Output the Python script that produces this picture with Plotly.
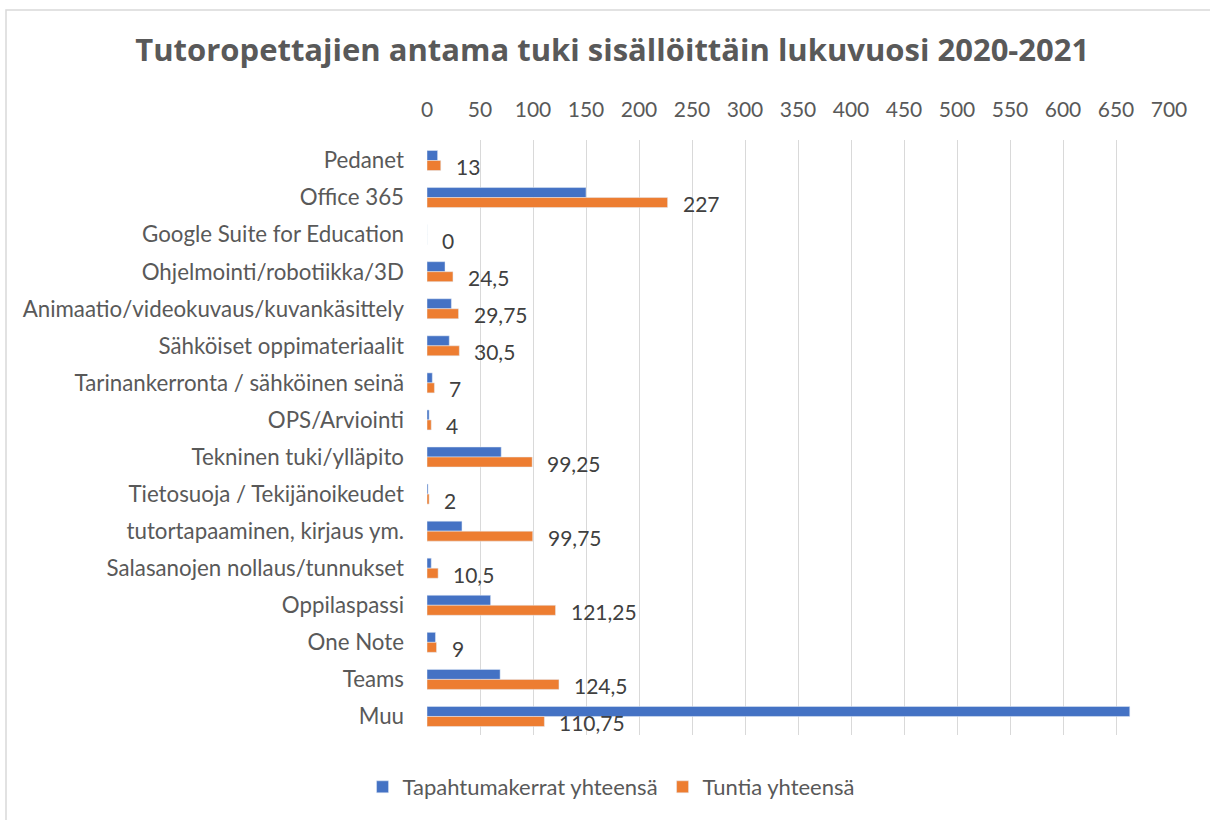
import plotly.graph_objects as go

categories = [
    "Pedanet", "Office 365", "Google Suite for Education", "Ohjelmointi/robotiikka/3D",
    "Animaatio/videokuvaus/kuvankäsittely", "Sähköiset oppimateriaalit",
    "Tarinankerronta / sähköinen seinä", "OPS/Arviointi", "Tekninen tuki/ylläpito",
    "Tietosuoja / Tekijänoikeudet", "tutortapaaminen, kirjaus ym.",
    "Salasanojen nollaus/tunnukset", "Oppilaspassi", "One Note", "Teams", "Muu",
]
tapahtumakerrat = [10, 150, 0, 17, 23, 21, 5, 2, 70, 1, 33, 4, 60, 8, 69, 663]
tuntia = [13, 227, 0, 24.5, 29.75, 30.5, 7, 4, 99.25, 2, 99.75, 10.5, 121.25, 9, 124.5, 110.75]
x_ticks = list(range(0, 701, 50))

series_names = ["Tapahtumakerrat yhteensä", "Tuntia yhteensä"]
BLUE = "#4472C4"
ORANGE = "#ED7D31"
FONT = "Lato, 'Open Sans', sans-serif"
TITLE_FONT = "'Open Sans', Lato, sans-serif"


def fmt(v):
    if float(v).is_integer():
        return str(int(v))
    return ("%g" % v).replace(".", ",")


fig = go.Figure()
fig.add_trace(go.Bar(y=categories, x=tapahtumakerrat, orientation="h", name=series_names[0],
                     marker=dict(color=BLUE)))
fig.add_trace(go.Bar(y=categories, x=tuntia, orientation="h", name=series_names[1],
                     marker=dict(color=ORANGE)))

for c, v in zip(categories, tuntia):
    fig.add_annotation(x=v, y=c, text=fmt(v), showarrow=False, xanchor="left",
                       xshift=13, yshift=-6, font=dict(size=21, color="#404040", family=FONT))

W, H = 1210, 820
L, R, T, B = 427, 41, 140, 85
pw, ph = W - L - R, H - T - B
fig.add_shape(type="rect", xref="paper", yref="paper",
              x0=(6 - L) / pw, x1=(W + 20 - L) / pw,
              y0=(H - B - (H + 20)) / ph, y1=(H - B - 10) / ph,
              line=dict(color="#d9d9d9", width=1.5), fillcolor="rgba(0,0,0,0)", layer="below")

fig.update_layout(
    width=W, height=H,
    margin=dict(l=L, r=R, t=T, b=B),
    paper_bgcolor="white", plot_bgcolor="white",
    barmode="group", bargap=0.46, bargroupgap=0,
    title=dict(text="<b>Tutoropettajien antama tuki sisällöittäin lukuvuosi 2020-2021</b>",
               x=0.506, xref="container", y=1 - 50 / H, yref="container",
               xanchor="center", yanchor="middle",
               font=dict(size=31, color="#595959", family=TITLE_FONT)),
    legend=dict(orientation="h", x=0.505, xref="container", xanchor="center",
                y=(H - 787) / H, yref="container", yanchor="middle",
                font=dict(size=22, color="#595959", family=FONT),
                itemwidth=30, traceorder="normal"),
    xaxis=dict(side="top", range=[0, 700], tickvals=x_ticks, showgrid=True,
               gridcolor="#d9d9d9", gridwidth=1.2, zeroline=False, showline=False,
               ticks="", ticklabelstandoff=18,
               tickfont=dict(size=21, color="#595959", family=FONT)),
    yaxis=dict(autorange="reversed", showgrid=False, showline=False, ticks="",
               ticklabelstandoff=22,
               tickfont=dict(size=22.3, color="#595959", family=FONT)),
)

fig.write_html("out.html", config={"displayModeBar": False},
               post_script="document.body.style.margin='0';")
